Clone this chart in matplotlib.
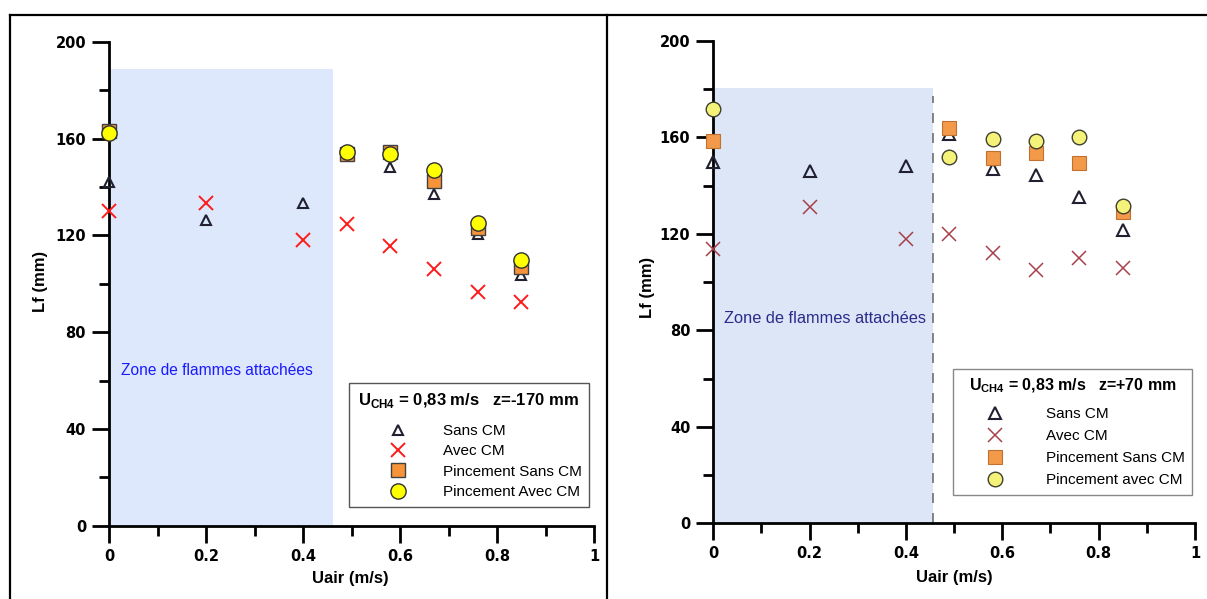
import matplotlib
matplotlib.use("Agg")
import matplotlib.pyplot as plt
from matplotlib.lines import Line2D
from matplotlib.ticker import MultipleLocator

plt.rcParams['font.family'] = ['Liberation Sans', 'DejaVu Sans']
plt.rcParams['mathtext.fontset'] = 'custom'
plt.rcParams['mathtext.rm'] = 'Liberation Sans:bold'
plt.rcParams['mathtext.bf'] = 'Liberation Sans:bold'

# DONNEES - z = -170 mm
x_g = [0, 0.2, 0.4, 0.49, 0.58, 0.67, 0.76, 0.85]
sans_cm_g = [142, 126.5, 133.4, 154, 148.5, 137, 120.5, 103.5]
avec_cm_g = [130, 133.5, 118, 124.7, 115.5, 106, 96.5, 92.4]
x_p_g = [0, 0.49, 0.58, 0.67, 0.76, 0.85]
pinc_sans_g = [163, 153.8, 154.5, 142.5, 123, 106.8]
pinc_avec_g = [162.5, 154.5, 153.8, 147, 125, 110]

# DONNEES - z = +70 mm
x_d = [0, 0.2, 0.4, 0.49, 0.58, 0.67, 0.76, 0.85]
sans_cm_d = [149.9, 146.1, 148.2, 161.6, 146.8, 144.5, 135.4, 121.7]
avec_cm_d = [113.7, 131, 118.1, 120, 112, 105, 110, 105.7]
x_p_d = [0, 0.49, 0.58, 0.67, 0.76, 0.85]
pinc_sans_d = [158.5, 164, 151.6, 153.7, 149.5, 129]
x_c_d = [0, 0.49, 0.58, 0.67, 0.76, 0.85]
pinc_avec_d = [171.7, 152, 159.5, 158.5, 160.2, 131.7]

TICKFONT = 'DejaVu Sans'

fig = plt.figure(figsize=(12.07, 5.99), dpi=100)

# cadre autour des deux graphes
for seg in [([10/1207, 1], [584/599, 584/599]),
            ([10/1207, 10/1207], [0, 584/599]),
            ([607/1207, 607/1207], [0, 584/599])]:
    fig.add_artist(Line2D(seg[0], seg[1], color='black', lw=1.6, transform=fig.transFigure))

ax1 = fig.add_axes([109/1207, 73.3/599, 485/1207, 483.7/599])
ax2 = fig.add_axes([713.3/1207, 75.7/599, 481.7/1207, 482.3/599])


def style(ax):
    ax.set_xlim(0, 1)
    ax.set_ylim(0, 200)
    ax.spines['top'].set_visible(False)
    ax.spines['right'].set_visible(False)
    ax.spines['left'].set_linewidth(2)
    ax.spines['bottom'].set_linewidth(2)
    ax.xaxis.set_major_locator(MultipleLocator(0.2))
    ax.xaxis.set_minor_locator(MultipleLocator(0.1))
    ax.yaxis.set_major_locator(MultipleLocator(40))
    ax.yaxis.set_minor_locator(MultipleLocator(20))
    ax.tick_params(which='major', direction='out', length=12.5, width=2, pad=4)
    ax.tick_params(which='minor', direction='out', length=7, width=2)
    ax.set_xticks([0, 0.2, 0.4, 0.6, 0.8, 1.0])
    ax.set_xticklabels(['0', '0.2', '0.4', '0.6', '0.8', '1'])
    for lab in ax.get_xticklabels() + ax.get_yticklabels():
        lab.set_fontweight('bold')
        lab.set_family(TICKFONT)
        lab.set_fontsize(10.5)
    ax.set_xlabel('Uair (m/s)', fontsize=12, fontweight='bold')
    ax.set_ylabel('Lf (mm)', fontsize=12, fontweight='bold')


style(ax1)
style(ax2)

# GRAPHE GAUCHE
ax1.fill_between([0, 0.462], 0, 188.7, color='#dde8fc', lw=0, zorder=0)
ax1.text(0.025, 64, 'Zone de flammes attachées', color='#1a1aff', fontsize=11.2, va='center')
ax1.plot(x_g, sans_cm_g, ls='none', marker='^', ms=7.5, mfc='none', mec='#202030', mew=1.5,
         label='Sans CM', clip_on=False, zorder=3)
ax1.plot(x_g, avec_cm_g, ls='none', marker='x', ms=10, mec='#ff1a1a', mew=1.4,
         label='Avec CM', clip_on=False, zorder=3)
ax1.plot(x_p_g, pinc_sans_g, ls='none', marker='s', ms=10, mfc='#f7943a', mec='#404040', mew=1,
         label='Pincement Sans CM', clip_on=False, zorder=4)
ax1.plot(x_p_g, pinc_avec_g, ls='none', marker='o', ms=11, mfc='#ffff00', mec='#303030', mew=1,
         label='Pincement Avec CM', clip_on=False, zorder=5)
leg1 = ax1.legend(title=r'U$_{\mathrm{CH4}}$ = 0,83 m/s   z=-170 mm', loc='lower right',
                  bbox_to_anchor=(0.99, 0.039), borderaxespad=0, fontsize=11,
                  handlelength=5.5, handletextpad=0.15, labelspacing=0.42, borderpad=0.5,
                  fancybox=False, edgecolor='#555555', framealpha=1,
                  title_fontproperties={'weight': 'bold', 'size': 12})
leg1.get_frame().set_linewidth(1)
leg1._legend_box.sep = 10

# GRAPHE DROITE
ax2.fill_between([0, 0.456], 0, 180.5, color='#dce6f7', lw=0, zorder=0)
ax2.plot([0.456, 0.456], [0, 177], color='#707070', ls=(0, (6, 6)), lw=1.2, zorder=1)
ax2.text(0.022, 85, 'Zone de flammes attachées', color='#2b2b8c', fontsize=11.8, va='center')
ax2.plot(x_d, sans_cm_d, ls='none', marker='^', ms=8, mfc='none', mec='#202030', mew=1.5,
         label='Sans CM', clip_on=False, zorder=3)
ax2.plot(x_d, avec_cm_d, ls='none', marker='x', ms=10, mec='#a8404a', mew=1.1,
         label='Avec CM', clip_on=False, zorder=3)
ax2.plot(x_p_d, pinc_sans_d, ls='none', marker='s', ms=10, mfc='#f29a4a', mec='#c07030', mew=0.8,
         label='Pincement Sans CM', clip_on=False, zorder=4)
ax2.plot(x_c_d, pinc_avec_d, ls='none', marker='o', ms=10.5, mfc='#f5f27a', mec='#404030', mew=1,
         label='Pincement avec CM', clip_on=False, zorder=5)
leg2 = ax2.legend(title=r'U$_{\mathrm{CH4}}$ = 0,83 m/s   z=+70 mm', loc='lower right',
                  bbox_to_anchor=(0.994, 0.059), borderaxespad=0, fontsize=11,
                  handlelength=4.6, handletextpad=0.98, labelspacing=0.52, borderpad=0.5,
                  fancybox=False, edgecolor='#888888', framealpha=1,
                  title_fontproperties={'weight': 'bold', 'size': 11.5})
leg2.get_frame().set_linewidth(1)
leg2._legend_box.sep = 9

ax1.xaxis.set_label_coords(0.497, -0.094)
ax1.yaxis.set_label_coords(-0.126, 0.505)
ax2.xaxis.set_label_coords(0.50, -0.097)
ax2.yaxis.set_label_coords(-0.121, 0.49)

fig.savefig('out.png', dpi=100)
